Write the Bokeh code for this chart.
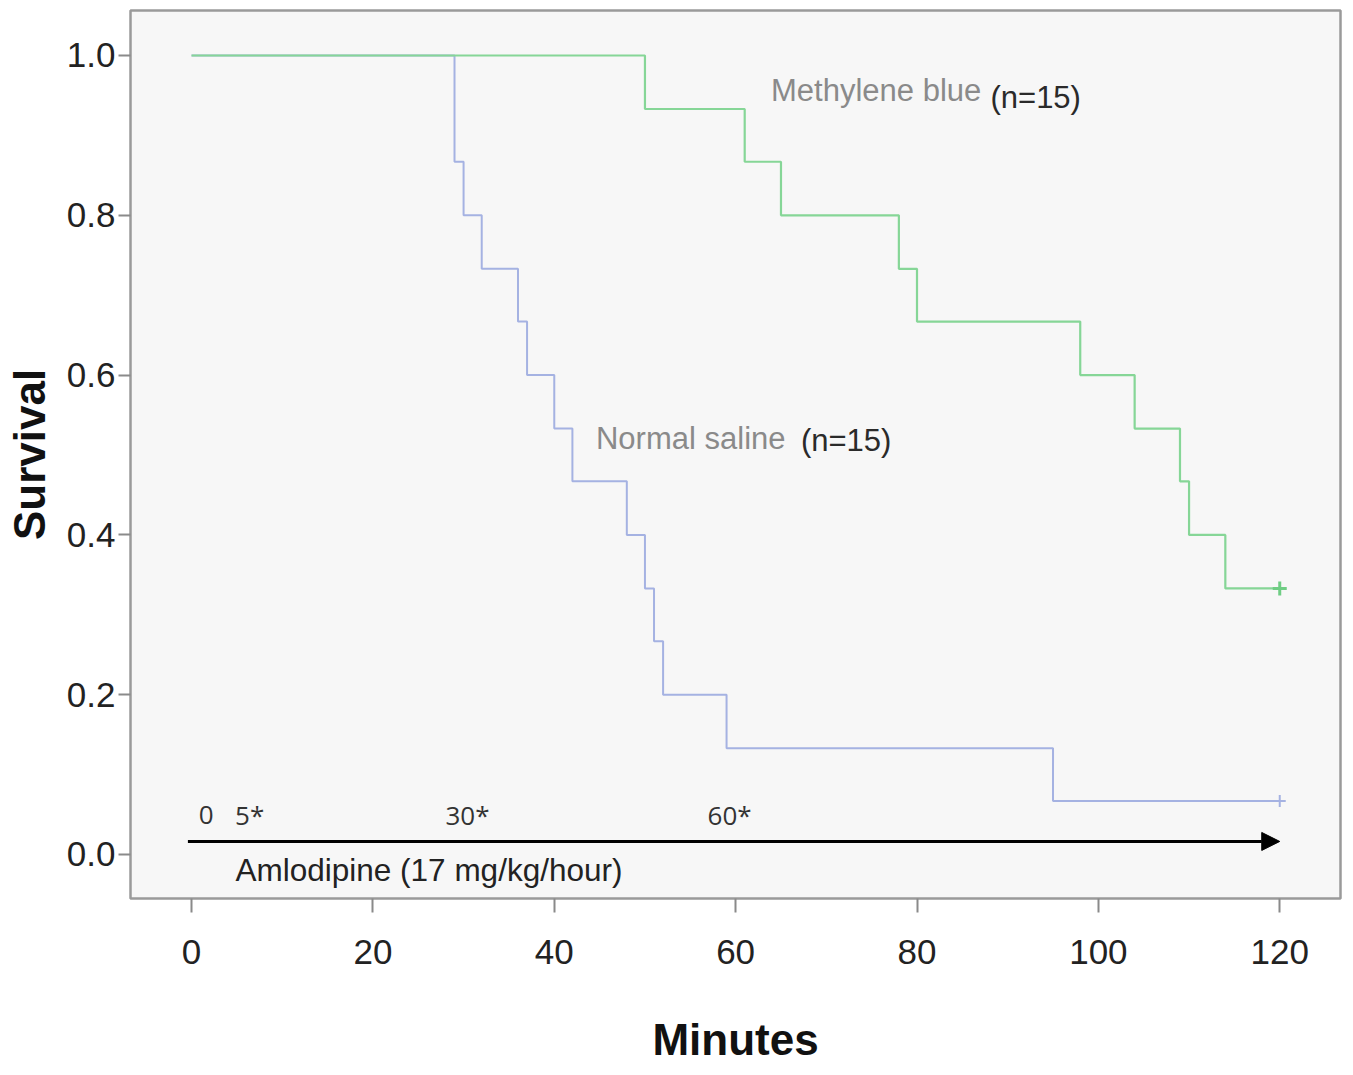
from bokeh.plotting import figure
from bokeh.models import Range1d, FixedTicker, Arrow, NormalHead
from bokeh.core.properties import value
from bokeh.embed import file_html
from bokeh.resources import INLINE

# --- data ---
saline_times = [0, 29, 30, 32, 36, 37, 40, 42, 48, 50, 51, 52, 59, 95, 120]
saline_surv = [1.0, 0.867, 0.8, 0.733, 0.667, 0.6, 0.533, 0.467, 0.4, 0.333, 0.267, 0.2, 0.133, 0.067, 0.067]
mb_times = [0, 50, 61, 65, 78, 80, 98, 104, 109, 110, 114, 120]
mb_surv = [1.0, 0.933, 0.867, 0.8, 0.733, 0.667, 0.6, 0.533, 0.467, 0.4, 0.333, 0.333]
censor_saline_t = [120]
censor_saline_s = [0.067]
censor_mb_t = [120]
censor_mb_s = [0.333]

x_ticks = [0, 20, 40, 60, 80, 100, 120]
y_ticks = [0.0, 0.2, 0.4, 0.6, 0.8, 1.0]
y_tick_labels = ["0.0", "0.2", "0.4", "0.6", "0.8", "1.0"]

dose_marks = ["0", "5*", "30*", "60*"]
dose_mark_x = [0.8, 4.8, 28.0, 56.9]

GREEN = "#86d697"
BLUE = "#a5b2e2"
FONT = "Liberation Sans"

p = figure(width=1345, height=1067,
           x_range=Range1d(-6.73, 126.7), y_range=Range1d(-0.0551, 1.0563),
           output_backend="svg", toolbar_location=None,
           min_border_left=130, min_border_right=5, min_border_top=10, min_border_bottom=169)

p.background_fill_color = "#f7f7f7"
p.border_fill_color = "white"
p.outline_line_color = "#9a9a9a"
p.outline_line_width = 2.5
p.xgrid.visible = False
p.ygrid.visible = False

# axes
p.xaxis.ticker = FixedTicker(ticks=x_ticks)
p.yaxis.ticker = FixedTicker(ticks=y_ticks)
p.yaxis.major_label_overrides = {t: l for t, l in zip(y_ticks, y_tick_labels)}
for ax in (p.xaxis[0], p.yaxis[0]):
    ax.axis_line_color = None
    ax.major_tick_line_color = "#8a8a8a"
    ax.major_tick_line_width = 2
    ax.major_tick_in = 0
    ax.minor_tick_line_color = None
    ax.major_label_text_font = FONT
    ax.major_label_text_font_size = "35px"
    ax.major_label_text_color = "#222222"
    ax.axis_label_text_font = FONT
    ax.axis_label_text_font_size = "44px"
    ax.axis_label_text_font_style = "bold"
    ax.axis_label_text_color = "#111111"

p.xaxis.major_tick_out = 14
p.xaxis.major_label_standoff = 27
p.xaxis.axis_label = "Minutes"
p.xaxis.axis_label_standoff = 48

p.yaxis.major_tick_out = 12
p.yaxis.major_label_standoff = 3
p.yaxis.axis_label = "Survival"
p.yaxis.axis_label_standoff = 10

# survival curves
p.step(saline_times, saline_surv, mode="after", line_color=BLUE, line_width=2)
p.step(mb_times, mb_surv, mode="after", line_color=GREEN, line_width=2.2)
p.scatter(censor_saline_t, censor_saline_s, marker="cross", size=12, line_color=BLUE, line_width=2)
p.scatter(censor_mb_t, censor_mb_s, marker="cross", size=14, line_color="#6fcd84", line_width=3)

# group labels
p.text(x=[63.9], y=[0.956], text=["Methylene blue"], text_font=value(FONT), text_font_size="31px",
       text_color="#8a8a8a", text_baseline="middle", text_align="left")
p.text(x=[88.1], y=[0.947], text=["(n=15)"], text_font=value(FONT), text_font_size="31px",
       text_color="#2a2a2a", text_baseline="middle", text_align="left")
p.text(x=[44.6], y=[0.521], text=["Normal saline"], text_font=value(FONT), text_font_size="31px",
       text_color="#8a8a8a", text_baseline="middle", text_align="left")
p.text(x=[67.2], y=[0.518], text=["(n=15)"], text_font=value(FONT), text_font_size="31px",
       text_color="#2a2a2a", text_baseline="middle", text_align="left")

# dosing timeline
p.text(x=dose_mark_x, y=[0.05] * len(dose_marks), text=dose_marks, text_font=value("Open Sans"),
       text_font_size="26px", text_color="#333333", text_baseline="middle", text_align="left")
p.add_layout(Arrow(end=NormalHead(size=18, fill_color="black", line_color="black"),
                   x_start=-0.4, y_start=0.0163, x_end=120, y_end=0.0163,
                   line_color="black", line_width=3))
p.text(x=[4.85], y=[-0.020], text=["Amlodipine (17 mg/kg/hour)"], text_font=value(FONT),
       text_font_size="31.5px", text_color="#222222", text_baseline="middle", text_align="left")

open("out.html", "w").write(file_html(p, INLINE))
